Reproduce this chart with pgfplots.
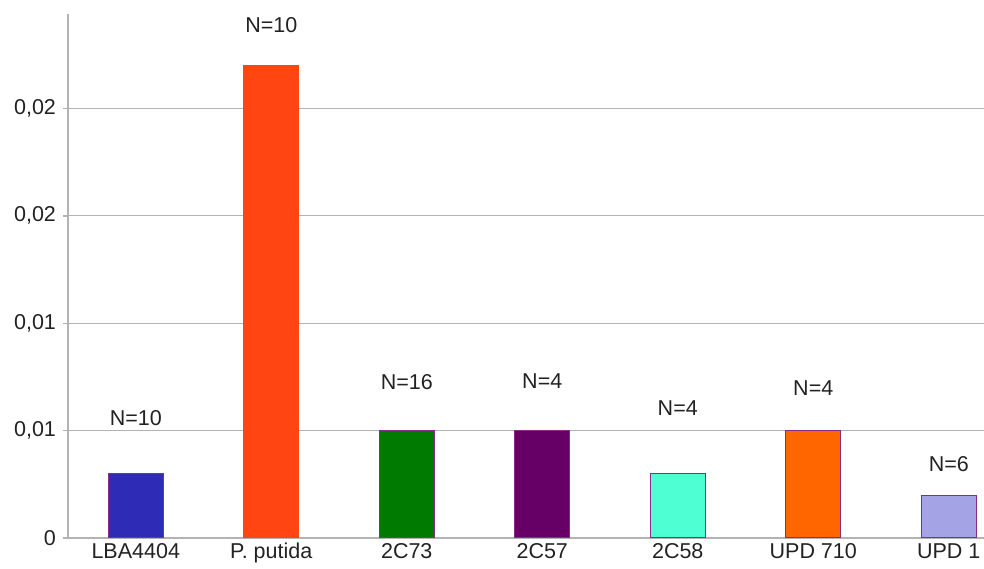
\documentclass[border=0pt]{standalone}
\usepackage{fontspec}
\setmainfont{Liberation Sans}
\usepackage{pgfplots}
\pgfplotsset{compat=1.18}

\definecolor{cLBA}{HTML}{2E2BB6}
\definecolor{cPut}{HTML}{FF4511}
\definecolor{c73}{HTML}{007A00}
\definecolor{c57}{HTML}{660066}
\definecolor{c58}{HTML}{4DFFD2}
\definecolor{c710}{HTML}{FF6600}
\definecolor{cU1}{HTML}{A3A3E6}
\definecolor{edge}{HTML}{8A2B8A}
\definecolor{gridc}{HTML}{B3B3B3}
\definecolor{txt}{HTML}{222222}

\begin{document}
\begin{tikzpicture}
\begin{axis}[
  scale only axis,
  width=458pt, height=262pt,
  xmin=-0.5, xmax=6.26,
  ymin=0, ymax=0.0244,
  axis x line*=bottom, axis y line*=left,
  axis line style={gridc, line width=0.7pt},
  xtick={0,1,2,3,4,5,6},
  xticklabels={LBA4404,P. putida,2C73,2C57,2C58,UPD 710,UPD 1},
  xtick style={draw=none},
  x tick label style={yshift=1pt, inner sep=1pt},
  extra x ticks={0.5,1.5,2.5,3.5,4.5,5.5},
  extra x tick labels={},
  extra x tick style={grid=none, tick style={draw=gridc, line width=0.7pt}},
  ytick={0,0.005,0.01,0.015,0.02},
  yticklabels={0,{0,01},{0,01},{0,02},{0,02}},
  ytick style={draw=gridc, line width=0.7pt},
  tick align=outside, major tick length=2.5pt,
  ymajorgrids, grid style={gridc, line width=0.6pt},
  tick label style={font=\fontsize{10.75}{12}\selectfont, text=txt},
  /pgf/number format/assume math mode=true,
  clip=false,
]
\addplot[ybar, bar shift=0pt, bar width=0.405, fill=cLBA, draw=edge, line width=0.5pt] coordinates {(0,0.003)};
\addplot[ybar, bar shift=0pt, bar width=0.405, fill=cPut, draw=cPut, line width=0.5pt] coordinates {(1,0.022)};
\addplot[ybar, bar shift=0pt, bar width=0.405, fill=c73, draw=edge, line width=0.5pt] coordinates {(2,0.005)};
\addplot[ybar, bar shift=0pt, bar width=0.405, fill=c57, draw=edge, line width=0.5pt] coordinates {(3,0.005)};
\addplot[ybar, bar shift=0pt, bar width=0.405, fill=c58, draw=edge, line width=0.5pt] coordinates {(4,0.003)};
\addplot[ybar, bar shift=0pt, bar width=0.405, fill=c710, draw=edge, line width=0.5pt] coordinates {(5,0.005)};
\addplot[ybar, bar shift=0pt, bar width=0.405, fill=cU1, draw=edge, line width=0.5pt] coordinates {(6,0.002)};
% N labels
\addplot[draw=none, mark=none, nodes near coords, point meta=explicit symbolic,
  nodes near coords style={anchor=center, font=\fontsize{10.75}{12}\selectfont, text=txt}]
  coordinates {
    (0,0.00556) [N=10]
    (1,0.02389) [N=10]
    (2,0.00727) [N=16]
    (3,0.00731) [N=4]
    (4,0.00606) [N=4]
    (5,0.00699) [N=4]
    (6,0.00343) [N=6]
  };
\end{axis}
\pgfresetboundingbox
\path ([xshift=-34pt,yshift=-15.5pt]current axis.south west) rectangle ([yshift=7pt]current axis.north east);
\end{tikzpicture}
\end{document}
